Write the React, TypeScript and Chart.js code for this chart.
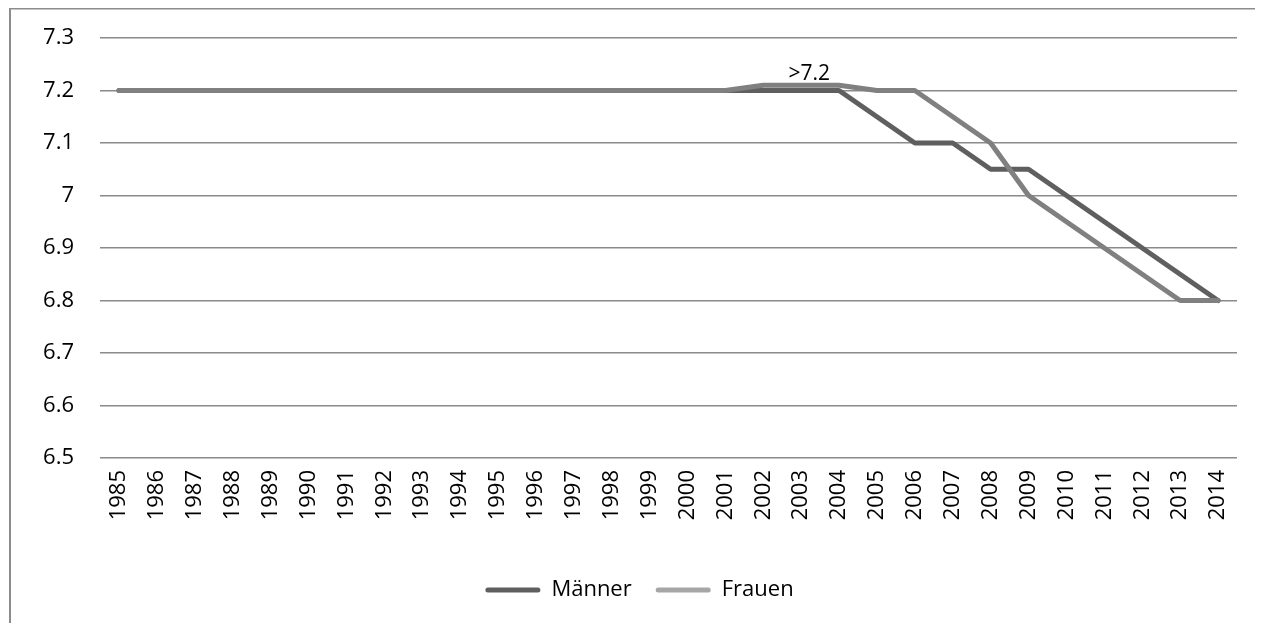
import { useEffect, useRef } from 'react';
import { Chart, registerables } from 'chart.js';

Chart.register(...registerables);

const years = ['1985', '1986', '1987', '1988', '1989', '1990', '1991', '1992', '1993', '1994', '1995', '1996', '1997', '1998', '1999', '2000', '2001', '2002', '2003', '2004', '2005', '2006', '2007', '2008', '2009', '2010', '2011', '2012', '2013', '2014'];

const maenner = [7.2, 7.2, 7.2, 7.2, 7.2, 7.2, 7.2, 7.2, 7.2, 7.2, 7.2, 7.2, 7.2, 7.2, 7.2, 7.2, 7.2, 7.2, 7.2, 7.2, 7.15, 7.1, 7.1, 7.05, 7.05, 7.0, 6.95, 6.9, 6.85, 6.8];

const frauen = [7.2, 7.2, 7.2, 7.2, 7.2, 7.2, 7.2, 7.2, 7.2, 7.2, 7.2, 7.2, 7.2, 7.2, 7.2, 7.2, 7.2, 7.21, 7.21, 7.21, 7.2, 7.2, 7.15, 7.1, 7.0, 6.95, 6.9, 6.85, 6.8, 6.8];

const seriesNames = ['Männer', 'Frauen'];
const lineColors = ['#5f5f5f', '#808080'];
const legendColors = ['#5f5f5f', '#a6a6a6'];

const dataLabelIndex = 18; // 2003
const dataLabelText = '>7.2';

const yMin = 6.5;
const yMax = 7.3;
const yStep = 0.1;

const FONT = "'Open Sans', 'Noto Sans', sans-serif";

export default function App() {
  const ref = useRef<HTMLCanvasElement>(null);

  useEffect(() => {
    if (!ref.current) return;

    const borderPlugin = {
      id: 'frameBorder',
      beforeDraw(chart: any) {
        const { ctx, width, height } = chart;
        ctx.save();
        ctx.fillStyle = '#ffffff';
        ctx.fillRect(0, 0, width, height);
        ctx.strokeStyle = '#8c8c8c';
        ctx.lineWidth = 2;
        ctx.beginPath();
        ctx.moveTo(2, 0);
        ctx.lineTo(2, height);
        ctx.stroke();
        ctx.lineWidth = 1.5;
        ctx.beginPath();
        ctx.moveTo(1, 0.75);
        ctx.lineTo(width, 0.75);
        ctx.stroke();
        ctx.restore();
      },
    };

    const dataLabelPlugin = {
      id: 'dataLabel',
      afterDatasetsDraw(chart: any) {
        const meta = chart.getDatasetMeta(1);
        const pt = meta.data[dataLabelIndex];
        if (!pt) return;
        const { ctx } = chart;
        ctx.save();
        ctx.font = `21px ${FONT}`;
        ctx.fillStyle = '#000000';
        ctx.textAlign = 'center';
        ctx.textBaseline = 'alphabetic';
        ctx.fillText(dataLabelText, pt.x + 8, pt.y - 5);
        ctx.restore();
      },
    };

    const chart = new Chart(ref.current, {
      type: 'line',
      data: {
        labels: years,
        datasets: [
          {
            label: seriesNames[0],
            data: maenner,
            borderColor: lineColors[0],
            backgroundColor: lineColors[0],
            borderWidth: 5,
            pointRadius: 0,
            pointHoverRadius: 0,
            tension: 0,
            borderJoinStyle: 'round',
            borderCapStyle: 'round',
            order: 1,
          },
          {
            label: seriesNames[1],
            data: frauen,
            borderColor: lineColors[1],
            backgroundColor: lineColors[1],
            borderWidth: 5,
            pointRadius: 0,
            pointHoverRadius: 0,
            tension: 0,
            borderJoinStyle: 'round',
            borderCapStyle: 'round',
            order: 0,
          },
        ],
      },
      options: {
        responsive: false,
        animation: false,
        devicePixelRatio: 1,
        layout: { padding: { top: 30, left: 34, right: 34, bottom: 57 } },
        plugins: {
          tooltip: { enabled: false },
          legend: {
            position: 'bottom',
            labels: {
              font: { family: FONT, size: 22 },
              color: '#000000',
              boxWidth: 55,
              boxHeight: 5,
              padding: 24,
              useBorderRadius: true,
              borderRadius: 2.5,
              generateLabels: () =>
                seriesNames.map((name, i) => ({
                  text: name,
                  fillStyle: legendColors[i],
                  strokeStyle: legendColors[i],
                  lineWidth: 0,
                  datasetIndex: i,
                  hidden: false,
                  borderRadius: 2.5,
                  fontColor: '#000000',
                })),
            },
          },
        },
        scales: {
          x: {
            type: 'category',
            offset: true,
            grid: { display: false, drawTicks: false },
            border: { display: false },
            ticks: {
              autoSkip: false,
              minRotation: 90,
              maxRotation: 90,
              padding: 12,
              color: '#000000',
              font: { family: FONT, size: 22 },
            },
            afterFit(scale: any) {
              scale.height = 97;
            },
          },
          y: {
            min: yMin,
            max: yMax,
            grid: { color: '#8a8a8a', lineWidth: 1.6, drawTicks: false },
            border: { display: false },
            ticks: {
              stepSize: yStep,
              padding: 26,
              color: '#000000',
              font: { family: FONT, size: 22 },
              callback: (v: any) => String(Math.round(Number(v) * 10) / 10),
            },
            afterFit(scale: any) {
              scale.width = 58;
              scale.paddingTop = 0;
              scale.paddingBottom = 0;
            },
          },
        },
      },
      plugins: [borderPlugin, dataLabelPlugin],
    });

    return () => chart.destroy();
  }, []);

  return (
    <div style={{ width: 1255, height: 615, overflow: 'hidden', position: 'relative' }}>
      <canvas
        ref={ref}
        width={1263}
        height={660}
        style={{ display: 'block', position: 'absolute', left: 0, top: 0, width: 1263, height: 660 }}
      />
    </div>
  );
}
